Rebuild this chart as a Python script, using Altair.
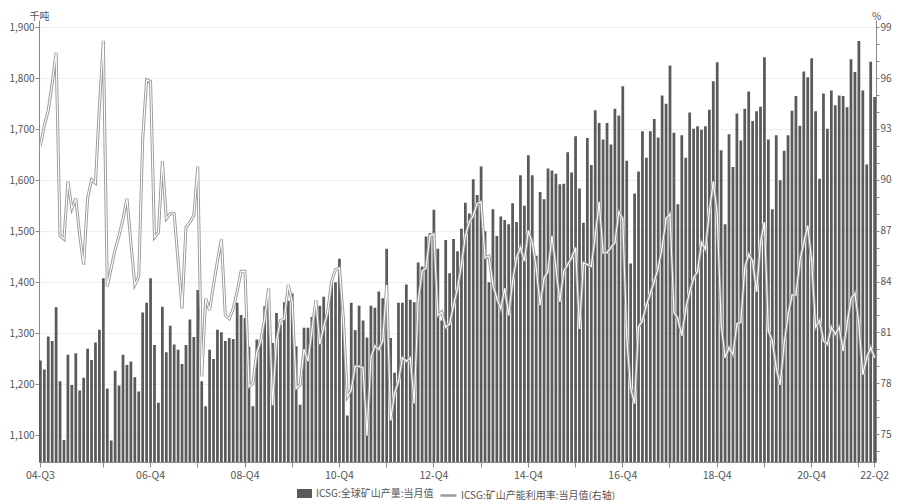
import altair as alt
import pandas as pd

# ---- data (monthly, Aug 2004 - Apr 2022) ----
months = pd.date_range("2004-08-01", periods=213, freq="MS").strftime("%Y-%m").tolist()

production = [
    1247, 1229, 1294, 1285, 1351, 1206, 1091, 1258, 1199, 1261, 1188, 1213, 1270, 1248, 1282, 1307,
    1408, 1192, 1090, 1227, 1198, 1258, 1238, 1245, 1214, 1186, 1341, 1360, 1408, 1277, 1164, 1352,
    1263, 1315, 1278, 1268, 1240, 1277, 1327, 1293, 1385, 1206, 1157, 1268,
    1250, 1307, 1302, 1285, 1291, 1289, 1360, 1336, 1330, 1274, 1157, 1288, 1283, 1353, 1351, 1281,
    1340, 1317, 1361, 1364, 1378, 1275, 1160, 1311, 1311, 1332, 1364, 1354, 1372, 1343, 1398, 1400,
    1446, 1331, 1139, 1360, 1306, 1354, 1325, 1292, 1354, 1350, 1382,
    1369, 1466, 1291, 1223, 1360, 1360, 1396, 1366, 1361, 1439, 1431, 1490, 1496, 1542, 1466, 1325,
    1483, 1418, 1485, 1461, 1505, 1556, 1535, 1602, 1571, 1627, 1500, 1400, 1543, 1491, 1529, 1522,
    1514, 1555, 1518, 1610, 1550, 1649, 1610, 1452, 1577, 1563, 1623,
    1619, 1613, 1592, 1593, 1655, 1615, 1686, 1584, 1517, 1683, 1630, 1737, 1712, 1680, 1712, 1670,
    1740, 1727, 1784, 1638, 1437, 1574, 1617, 1696, 1644, 1696, 1720, 1684, 1766, 1750, 1825, 1693,
    1553, 1688, 1644, 1733, 1701, 1706, 1699, 1706, 1738, 1794, 1831,
    1659, 1514, 1690, 1626, 1731, 1678, 1740, 1774, 1716, 1735, 1744, 1841, 1680, 1543, 1688, 1600,
    1658, 1688, 1736, 1765, 1707, 1813, 1802, 1839, 1735, 1603, 1770, 1701, 1776, 1747, 1766, 1765,
    1743, 1837, 1812, 1873, 1776, 1631, 1832, 1763,
]

utilization = [
    92.0, 93.2, 94.1, 95.7, 97.5, 86.7, 86.5, 89.9, 88.3, 88.9, 86.7, 85.0, 88.9, 90.0, 89.8, 94.3,
    98.2, 83.7, 84.8, 85.9, 86.7, 87.7, 88.9, 86.3, 83.8, 84.3, 92.4, 95.9, 95.8, 86.6, 86.9, 91.1,
    87.7, 88.0, 88.0, 85.2, 82.4, 87.2, 87.5, 87.9, 90.8, 78.4, 83.0, 82.3,
    83.8, 85.2, 86.5, 82.0, 81.8, 82.4, 83.4, 84.6, 84.6, 77.8, 78.0, 79.8, 80.5, 81.8, 83.6, 76.7,
    80.5, 81.7, 81.8, 83.8, 82.8, 77.7, 77.9, 80.0, 79.3, 81.1, 82.9, 80.3, 81.3, 82.2, 84.0, 84.7,
    84.8, 81.8, 77.2, 77.6, 79.0, 79.0, 78.9, 74.9, 79.5, 80.2, 80.0,
    80.5, 83.8, 75.8, 77.4, 78.1, 79.5, 79.3, 79.5, 76.8, 82.8, 84.6, 84.8, 86.7, 86.8, 82.0, 82.2,
    81.3, 81.5, 82.6, 83.6, 85.0, 86.7, 87.5, 87.9, 88.6, 88.7, 85.4, 85.5, 83.8, 83.0, 82.4, 83.6,
    82.0, 84.0, 85.4, 86.0, 85.2, 87.0, 86.3, 84.8, 82.6, 84.2, 84.6,
    86.7, 84.8, 82.8, 84.6, 85.0, 85.4, 86.0, 81.2, 85.1, 85.0, 84.9, 86.7, 88.7, 85.7, 85.7, 86.0,
    86.3, 88.1, 87.7, 80.7, 77.7, 76.8, 81.3, 81.7, 82.6, 83.3, 84.0, 84.8, 86.0, 87.7, 88.0, 82.2,
    81.8, 80.8, 82.4, 83.4, 84.2, 84.6, 86.3, 85.9, 88.1, 89.9, 88.0,
    81.5, 79.5, 80.1, 79.7, 81.5, 81.6, 84.8, 85.6, 85.2, 83.4, 86.3, 87.5, 81.1, 80.5, 78.9, 77.9,
    80.3, 82.0, 83.2, 83.2, 85.2, 86.3, 87.3, 85.2, 81.3, 81.7, 80.5, 80.3, 81.3, 80.9, 81.3, 79.9,
    81.5, 83.0, 83.3, 81.5, 78.5, 79.5, 80.1, 79.5,
]

tick_months = ["2004-08"] + [f"{y}-12" for y in range(2005, 2022)] + ["2022-04"]
left_ticks = [1100, 1200, 1300, 1400, 1500, 1600, 1700, 1800, 1900]
right_ticks = list(range(74, 100))

bar_label = "ICSG:全球矿山产量:当月值"
line_label = "ICSG:矿山产能利用率:当月值(右轴)"

df = pd.DataFrame({"month": months, "prod": production, "util": utilization})

FONT = "Noto Sans CJK SC"
TXT = "#555555"
AX = "#8a8a8a"

label_expr = (
    "datum.value == '2004-08' ? '04-Q3' : (datum.value == '2022-04' ? '22-Q2' : "
    "(toNumber(substring(datum.value,0,4)) % 2 == 0 ? substring(datum.value,2,4) + '-Q4' : ''))"
)

x_enc = alt.X(
    "month:O",
    scale=alt.Scale(paddingInner=0.3, paddingOuter=0),
    axis=alt.Axis(
        values=tick_months, labelExpr=label_expr, title=None, labelAngle=0,
        labelOverlap=False, labelFont=FONT, labelFontSize=10.5, labelColor=TXT,
        tickColor=AX, domainColor=AX, tickSize=5, labelPadding=3, grid=False,
    ),
)

base = alt.Chart(df)

bars = base.mark_bar(color="#5a5a5a", clip=True).encode(
    x=x_enc,
    y=alt.Y(
        "prod:Q",
        scale=alt.Scale(domain=[1048, 1914], nice=False, zero=False),
        axis=alt.Axis(
            values=left_ticks, format=",d", title="千吨", titleAngle=0, titleX=0, titleY=-9,
            titleAlign="center", titleBaseline="top", titleFont=FONT, titleFontSize=10,
            titleFontWeight="normal", titleColor=TXT, labelFont=FONT, labelFontSize=10,
            labelColor=TXT, tickColor=AX, domainColor=AX, tickSize=4, labelPadding=1,
            grid=True, gridColor="#eeeeee",
        ),
    ),
    color=alt.Color(
        "s1:N",
        scale=alt.Scale(domain=[bar_label], range=["#5a5a5a"]),
        legend=alt.Legend(
            orient="none", legendX=258, legendY=466, title=None, padding=0,
            symbolType="M-1,-0.6L1,-0.6L1,0.6L-1,0.6Z", symbolSize=225, symbolStrokeWidth=0,
            labelFont=FONT, labelFontSize=10, labelColor=TXT, labelOffset=4,
        ),
    ),
).transform_calculate(s1=f"'{bar_label}'")

right_scale = alt.Scale(domain=[73.35, 99.43], nice=False, zero=False)

line_outline = base.mark_line(strokeWidth=3, clip=True).encode(
    x=x_enc,
    y=alt.Y(
        "util:Q",
        scale=right_scale,
        axis=alt.Axis(
            orient="right", values=right_ticks,
            labelExpr="datum.value % 3 == 0 ? datum.value : ''",
            title="%", titleAngle=0, titleX=0, titleY=-9, titleAlign="center",
            titleBaseline="top", titleFont=FONT, titleFontSize=10, titleFontWeight="normal",
            titleColor=TXT, labelFont=FONT, labelFontSize=10, labelColor=TXT,
            tickColor=AX, domainColor=AX, tickSize=3, labelPadding=1, grid=False,
        ),
    ),
    stroke=alt.Stroke(
        "s2:N",
        scale=alt.Scale(domain=[line_label], range=["#9a9a9a"]),
        legend=alt.Legend(
            orient="none", legendX=400, legendY=466, title=None, padding=0,
            symbolType="stroke", symbolSize=256, symbolStrokeWidth=2.5,
            labelFont=FONT, labelFontSize=10, labelColor=TXT, labelOffset=3,
        ),
    ),
).transform_calculate(s2=f"'{line_label}'")

line_core = base.mark_line(strokeWidth=1.1, color="#ffffff", clip=True).encode(
    x=x_enc,
    y=alt.Y("util:Q", scale=right_scale, axis=None),
)

chart = (
    alt.layer(bars, line_outline, line_core)
    .resolve_scale(y="independent", color="independent", stroke="independent")
    .properties(
        width=837, height=442,
        autosize=alt.AutoSizeParams(type="none"),
        padding={"left": 31, "top": 12, "right": 16, "bottom": 38},
        background="white",
    )
    .configure_view(stroke=None)
)

chart.save("out.html", embed_options={"renderer": "svg", "actions": False})
